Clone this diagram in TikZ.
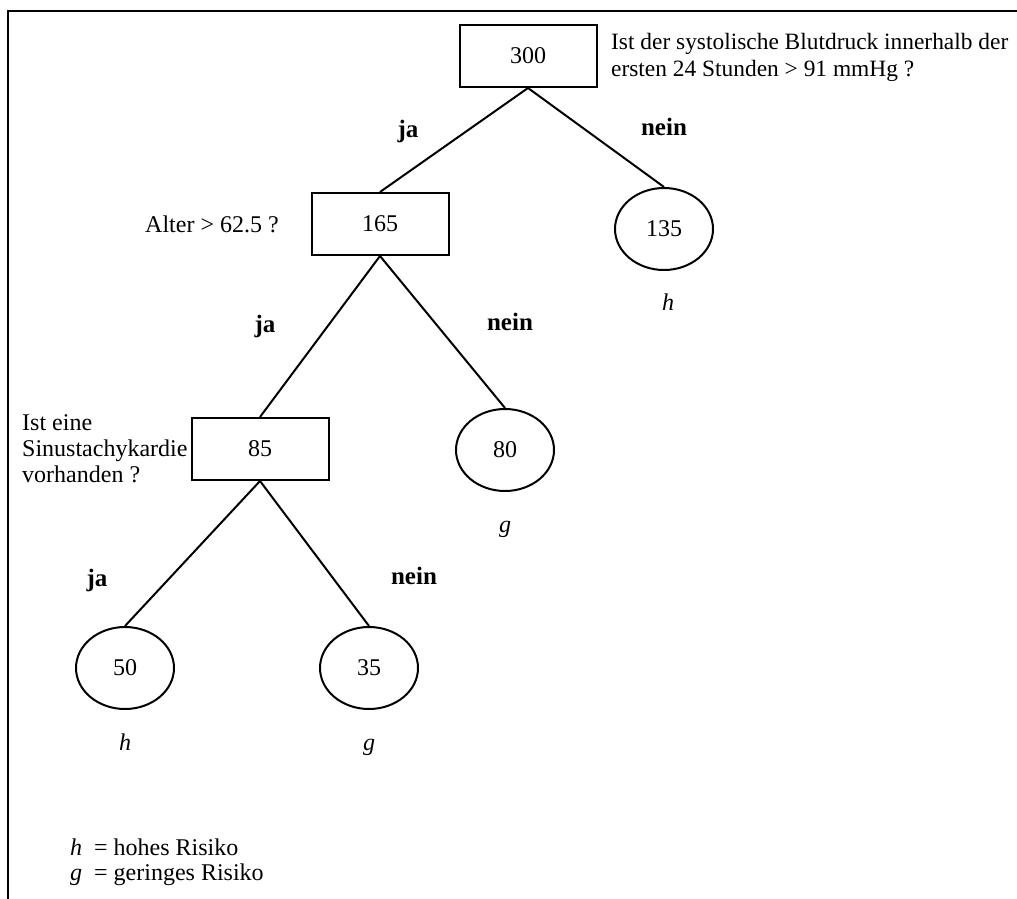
\documentclass[tikz,border=0pt]{standalone}
\usepackage{fontspec}
\setmainfont{Liberation Serif}
\usetikzlibrary{shapes.geometric}
\begin{document}
\begin{tikzpicture}[x=1pt,y=-1pt,
  every node/.style={font=\fontsize{24}{28}\selectfont},
  qbox/.style={draw,line width=2pt,minimum width=137pt,minimum height=62pt,inner sep=0pt},
  leaf/.style={draw,ellipse,line width=2pt,minimum width=98pt,minimum height=82pt,inner sep=0pt},
  conn/.style={line width=2pt},
  lbl/.style={font=\fontsize{25}{28}\selectfont\bfseries,anchor=base},
  txt/.style={anchor=base west,inner sep=0pt},
  cls/.style={anchor=base,inner sep=0pt}]
\useasboundingbox (0,0) rectangle (1017,899);
\fill[white] (0,0) rectangle (1017,899);
\draw[line width=2.5pt] (8,899) -- (8,11) -- (1017,11);

\node[qbox] (n300) at (528,56) {300};
\node[qbox] (n165) at (380,224) {165};
\node[leaf] (n135) at (664,229) {135};
\node[qbox] (n85) at (260,449) {85};
\node[leaf] (n80) at (505,450) {80};
\node[leaf] (n50) at (125,668) {50};
\node[leaf] (n35) at (369,668) {35};

\draw[conn] (n300.south) -- (n165.north);
\draw[conn] (n300.south) -- (n135.north);
\draw[conn] (n165.south) -- (n85.north);
\draw[conn] (n165.south) -- (n80.north);
\draw[conn] (n85.south) -- (n50.north);
\draw[conn] (n85.south) -- (n35.north);

\node[lbl] (l1) at (408,137) {ja};
\node[lbl] (l2) at (664,135) {nein};
\node[lbl] (l3) at (265,332) {ja};
\node[lbl] (l4) at (510,330) {nein};
\node[lbl] (l5) at (97,586) {ja};
\node[lbl] (l6) at (414,584) {nein};

\node[txt,font=\fontsize{23.4}{28}\selectfont] (q1a) at (611,49) {Ist der systolische Blutdruck innerhalb der};
\node[txt,font=\fontsize{23.4}{28}\selectfont] (q1b) at (611,77) {ersten 24 Stunden > 91 mmHg ?};
\node[txt] (q2) at (145,232) {Alter > 62.5 ?};
\node[txt] (q3a) at (22,430) {Ist eine};
\node[txt] (q3b) at (22,456) {Sinustachykardie};
\node[txt] (q3c) at (22,482) {vorhanden ?};

\node[cls] (c135) at (668,310) {\textit{h}};
\node[cls] (c80) at (505,532) {\textit{g}};
\node[cls] (c50) at (125,750) {\textit{h}};
\node[cls] (c35) at (369,750) {\textit{g}};

\node[txt] (lg1) at (70,855) {\textit{h}\ \ = hohes Risiko};
\node[txt] (lg2) at (70,880) {\textit{g}\ \ = geringes Risiko};
\end{tikzpicture}
\end{document}
